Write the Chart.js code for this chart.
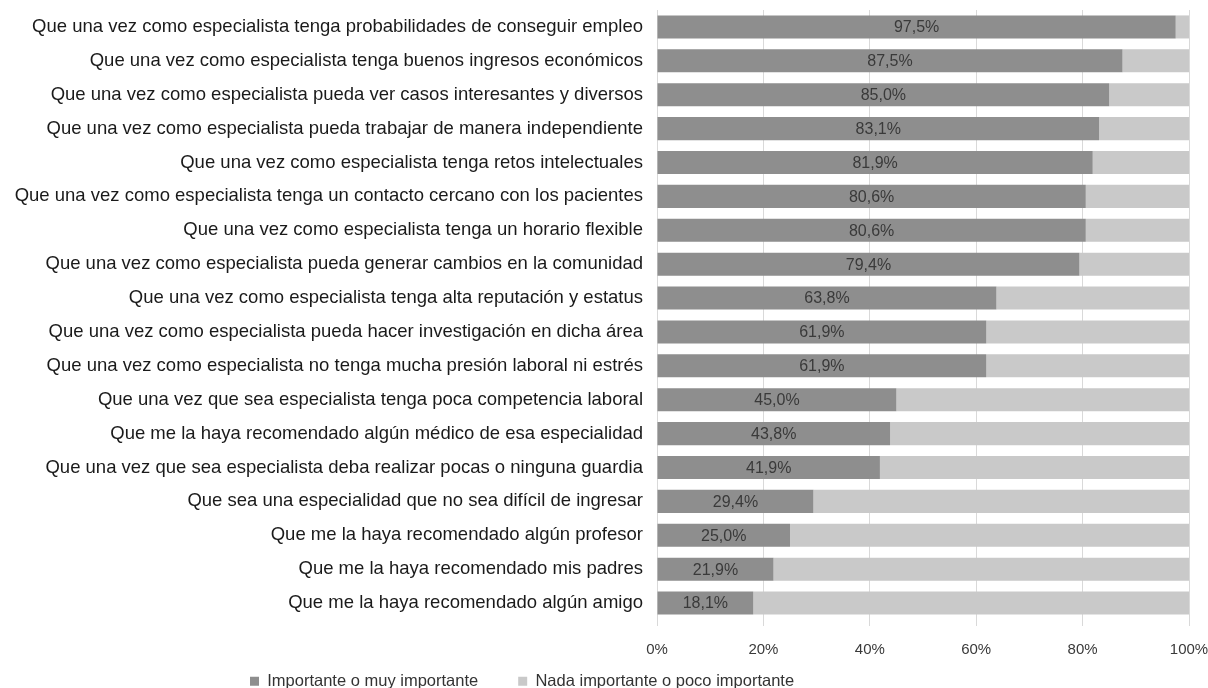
<!DOCTYPE html>
<html>
<head>
<meta charset="utf-8">
<script src="https://cdn.jsdelivr.net/npm/chart.js@4"></script>
<style>
  html, body { margin: 0; padding: 0; background: #fff; }
  #wrap { width: 1208px; height: 688px; }
</style>
</head>
<body>
<div id="wrap"><canvas id="chart"></canvas></div>
<script>
// categories (top to bottom)
const categories = [
    'Que una vez como especialista tenga probabilidades de conseguir empleo',
    'Que una vez como especialista tenga buenos ingresos económicos',
    'Que una vez como especialista pueda ver casos interesantes y diversos',
    'Que una vez como especialista pueda trabajar de manera independiente',
    'Que una vez como especialista tenga retos intelectuales',
    'Que una vez como especialista tenga un contacto cercano con los pacientes',
    'Que una vez como especialista tenga un horario flexible',
    'Que una vez como especialista pueda generar cambios en la comunidad',
    'Que una vez como especialista tenga alta reputación y estatus',
    'Que una vez como especialista pueda hacer investigación en dicha área',
    'Que una vez como especialista no tenga mucha presión laboral ni estrés',
    'Que una vez que sea especialista tenga poca competencia laboral',
    'Que me la haya recomendado algún médico de esa especialidad',
    'Que una vez que sea especialista deba realizar pocas o ninguna guardia',
    'Que sea una especialidad que no sea difícil de ingresar',
    'Que me la haya recomendado algún profesor',
    'Que me la haya recomendado mis padres',
    'Que me la haya recomendado algún amigo'
];

const importante = [97.5, 87.5, 85.0, 83.1, 81.9, 80.6, 80.6, 79.4, 63.8, 61.9, 61.9, 45.0, 43.8, 41.9, 29.4, 25.0, 21.9, 18.1];
const nadaImportante = [2.5, 12.5, 15.0, 16.9, 18.1, 19.4, 19.4, 20.6, 36.2, 38.1, 38.1, 55.0, 56.2, 58.1, 70.6, 75.0, 78.1, 81.9];

const seriesNames = ['Importante o muy importante', 'Nada importante o poco importante'];
const xTicks = [0, 20, 40, 60, 80, 100];

const FONT = "'Liberation Sans', Arial, sans-serif";

// value labels centred in the first series
const barLabels = {
    id: 'barLabels',
    afterDatasetsDraw(chart) {
        const ctx = chart.ctx;
        const meta = chart.getDatasetMeta(0);
        ctx.save();
        ctx.font = '16px ' + FONT;
        ctx.fillStyle = '#3a3a3a';
        ctx.textAlign = 'center';
        ctx.textBaseline = 'middle';
        meta.data.forEach((bar, i) => {
            const cx = (bar.x + bar.base) / 2;
            ctx.fillText(importante[i].toFixed(1).replace('.', ',') + '%', cx, bar.y + 1);
        });
        ctx.restore();
    }
};

// keep the legend short in the layout, then place it under the left part
const legendPlace = {
    id: 'legendPlace',
    beforeLayout(chart) {
        const lg = chart.legend;
        if (lg && !lg._patched) {
            const fit = lg.fit.bind(lg);
            lg.fit = function () { fit(); this.height = 29; };
            lg._patched = true;
        }
    },
    afterLayout(chart) {
        const lg = chart.legend;
        if (!lg) return;
        const pad = lg.options.labels.padding;
        lg.left = 250 - pad;
        lg.right = 1208;
        lg.top = 682 - pad - 9;
        lg.bottom = 688;
    }
};

new Chart(document.querySelector('#chart').getContext('2d'), {
    type: 'bar',
    data: {
        labels: categories,
        datasets: [
            {
                label: seriesNames[0],
                data: importante,
                backgroundColor: '#8e8e8e',
                barPercentage: 0.68,
                categoryPercentage: 1
            },
            {
                label: seriesNames[1],
                data: nadaImportante,
                backgroundColor: '#c9c9c9',
                barPercentage: 0.68,
                categoryPercentage: 1
            }
        ]
    },
    options: {
        indexAxis: 'y',
        responsive: true,
        maintainAspectRatio: false,
        animation: false,
        layout: { padding: { top: 10, right: 0, left: 0, bottom: 0 } },
        scales: {
            x: {
                stacked: true,
                min: 0,
                max: 100,
                afterBuildTicks(axis) {
                    axis.ticks = xTicks.map(v => ({ value: v }));
                },
                afterFit(axis) {
                    axis.height = 39;
                    axis.paddingLeft = 0;
                    axis.paddingRight = 19;
                },
                ticks: {
                    callback: v => v + '%',
                    color: '#3a3a3a',
                    font: { family: FONT, size: 15 },
                    padding: 15
                },
                grid: { color: '#d9d9d9', tickLength: 6, drawTicks: true },
                border: { display: false }
            },
            y: {
                stacked: true,
                afterFit(axis) {
                    axis.width = 657;
                    axis.paddingTop = 0;
                    axis.paddingBottom = 0;
                },
                ticks: {
                    color: '#1a1a1a',
                    font: { family: FONT, size: 18.5 },
                    padding: 14,
                    autoSkip: false
                },
                grid: { display: false, drawTicks: false },
                border: { display: false }
            }
        },
        plugins: {
            legend: {
                position: 'bottom',
                align: 'start',
                labels: {
                    color: '#333333',
                    font: { family: FONT, size: 16.5 },
                    boxWidth: 9,
                    boxHeight: 9,
                    padding: 40
                }
            },
            tooltip: { enabled: false }
        }
    },
    plugins: [barLabels, legendPlace]
});
</script>
</body>
</html>
